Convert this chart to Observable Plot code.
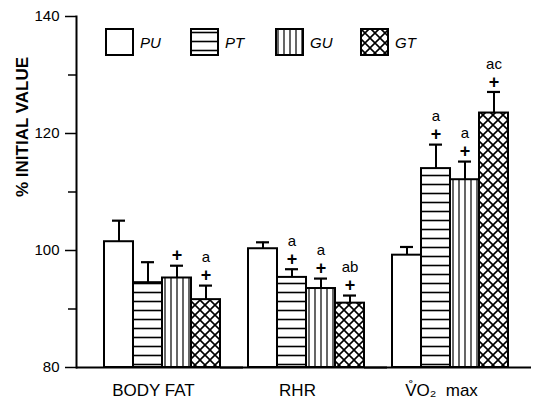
<!DOCTYPE html>
<html>
<head>
<meta charset="utf-8">
<script src="https://cdn.jsdelivr.net/npm/d3@7"></script>
<script src="https://cdn.jsdelivr.net/npm/@observablehq/plot@0.6"></script>
<style>
  body { margin: 0; background: #fff; }
  #wrap { position: relative; width: 534px; height: 403px; }
  #legend { position: absolute; left: 105px; top: 28px; display: flex; font-family: "Liberation Sans", sans-serif; font-style: italic; font-size: 15px; }
  #legend .item { display: flex; align-items: center; width: 85px; }
  #legend .item svg { margin-right: 6px; }
</style>
</head>
<body>
<svg width="0" height="0" style="position:absolute">
  <defs>
    <pattern id="pt" patternUnits="userSpaceOnUse" width="10" height="9">
      <rect width="10" height="9" fill="white"/>
      <line x1="0" y1="4.5" x2="10" y2="4.5" stroke="black" stroke-width="1.6"/>
    </pattern>
    <pattern id="gu" patternUnits="userSpaceOnUse" width="6" height="10">
      <rect width="6" height="10" fill="white"/>
      <line x1="3" y1="0" x2="3" y2="10" stroke="black" stroke-width="1.2"/>
    </pattern>
    <pattern id="gt" patternUnits="userSpaceOnUse" width="10" height="10">
      <rect width="10" height="10" fill="white"/>
      <path d="M-1,-1L11,11M11,-1L-1,11" stroke="black" stroke-width="1.6"/>
    </pattern>
  </defs>
</svg>
<div id="wrap"><div id="legend"></div></div>
<script>
// ---- data ----
const metrics = ["BODY FAT", "RHR", "VO2 max"];
const metricLabels = ["BODY FAT", "RHR", "V\u030AO\u2082  max"];
const groups = ["PU", "PT", "GU", "GT"];

const bodyFat   = [101.5, 94.5, 95.3, 91.6];
const bodyFatSE = [3.6, 3.5, 2.1, 2.4];
const rhr       = [100.3, 95.4, 93.5, 91.0];
const rhrSE     = [1.1, 1.4, 1.7, 1.3];
const vo2       = [99.2, 114.0, 112.1, 123.5];
const vo2SE     = [1.4, 4.1, 3.1, 3.6];

const bodyFatPlus = ["", "", "+", "+"];
const rhrPlus     = ["", "+", "+", "+"];
const vo2Plus     = ["", "+", "+", "+"];
const bodyFatSig  = ["", "", "", "a"];
const rhrSig      = ["", "a", "a", "ab"];
const vo2Sig      = ["", "a", "a", "ac"];

const majorTicks = [80, 100, 120, 140];
const minorTicks = [90, 110, 130];
const yLabel = "% INITIAL VALUE";

// ---- build table ----
const values = [bodyFat, rhr, vo2];
const ses = [bodyFatSE, rhrSE, vo2SE];
const pluses = [bodyFatPlus, rhrPlus, vo2Plus];
const sigs = [bodyFatSig, rhrSig, vo2Sig];
const data = metrics.flatMap((m, i) => groups.map((g, j) => ({
  metric: m, group: g, value: values[i][j], upper: values[i][j] + ses[i][j],
  plus: pluses[i][j], sig: sigs[i][j]
})));
const fills = ["white", "url(#pt)", "url(#gu)", "url(#gt)"];

const chart = Plot.plot({
  width: 534, height: 403,
  marginTop: 16, marginBottom: 36, marginLeft: 76, marginRight: 0,
  fx: {domain: metrics, paddingInner: 0, paddingOuter: 0.08, align: 0},
  x: {domain: groups, paddingInner: 0, paddingOuter: 0.48, align: 1, axis: null},
  y: {domain: [80, 140]},
  color: {type: "ordinal", domain: groups, range: fills},
  style: {fontFamily: "Liberation Sans, sans-serif", background: "white", color: "black"},
  marks: [
    Plot.barY(data, {fx: "metric", x: "group", y1: 80, y2: "value", fill: "group", stroke: "black", strokeWidth: 2}),
    Plot.ruleX(data, {fx: "metric", x: "group", y1: "value", y2: "upper", stroke: "black", strokeWidth: 2}),
    Plot.tickY(data, {fx: "metric", x: "group", y: "upper", stroke: "black", strokeWidth: 2.2, insetLeft: 8, insetRight: 8}),
    Plot.text(data, {fx: "metric", x: "group", y: "upper", text: "plus", dy: -10, fontSize: 18, fontWeight: "bold"}),
    Plot.text(data, {fx: "metric", x: "group", y: "upper", text: "sig", dy: -28, fontSize: 15}),
    Plot.ruleY([80], {stroke: "black", strokeWidth: 2, insetRight: -23}),
    Plot.axisY({ticks: majorTicks, tickSize: 11, tickPadding: 6, fontSize: 15, label: null, strokeWidth: 1.5}),
    Plot.axisY({ticks: minorTicks, tickSize: 8, tickFormat: () => "", label: null, strokeWidth: 1.5}),
    Plot.frame({anchor: "left", facetAnchor: "left", stroke: "black", strokeWidth: 2}),
    Plot.text([yLabel], {frameAnchor: "left", rotate: -90, dx: -54, dy: 5, facetAnchor: "left", fontSize: 17, fontWeight: "bold", text: d => d}),
    Plot.axisFx({anchor: "bottom", tickSize: 0, tickPadding: 16, fontSize: 17, dx: 5, label: null,
      tickFormat: d => metricLabels[metrics.indexOf(d)]})
  ]
});

document.getElementById("wrap").prepend(chart);

// legend
const legend = document.getElementById("legend");
groups.forEach((g, i) => {
  const item = document.createElement("div");
  item.className = "item";
  item.innerHTML = `<svg width="29" height="28"><rect x="1" y="1" width="27" height="26" fill="${fills[i]}" stroke="black" stroke-width="2"/></svg><span>${g}</span>`;
  legend.appendChild(item);
});
</script>
</body>
</html>
